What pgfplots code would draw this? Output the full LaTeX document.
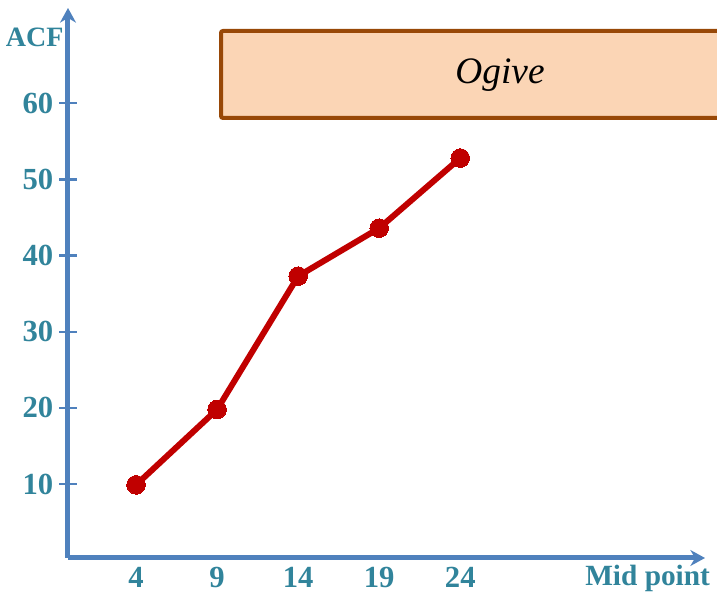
\documentclass[border=0pt]{standalone}
\usepackage{pgfplots}
\pgfplotsset{compat=1.18}
\usepackage{fontspec}
\setmainfont{Liberation Serif}
\usetikzlibrary{arrows.meta}
\definecolor{axisblue}{HTML}{4F81BD}
\definecolor{labelteal}{HTML}{31849B}
\definecolor{linered}{HTML}{C00000}
\definecolor{boxfill}{HTML}{FBD5B5}
\definecolor{boxdraw}{HTML}{984807}
\newcommand{\lblfont}{\bfseries\fontsize{23}{26}\selectfont}
\begin{document}
\begin{tikzpicture}
% page = 717x599 px at 0.75pt per px, origin at the axis corner
\useasboundingbox (-51pt,-30.75pt) rectangle (486.75pt,418.5pt);
\clip (-51pt,-30.75pt) rectangle (486.75pt,418.5pt);
\begin{axis}[
  scale only axis,
  width=477.75pt, height=412.5pt,
  xmin=-0.2, xmax=39.1,
  ymin=0.3, ymax=72.5,
  axis lines=left,
  axis line style={draw=axisblue, line width=3.75pt},
  x axis line style={-{Stealth[length=11pt,width=12pt]}},
  y axis line style={-{Stealth[length=11pt,width=12pt]}},
  xtick={4,9,14,19,24},
  ytick={10,20,...,60},
  xtick style={draw=none},
  ytick style={draw=axisblue, line width=1.8pt},
  tick align=center,
  major tick length=13pt,
  /pgf/number format/assume math mode=true,
  tick label style={font=\lblfont, text=labelteal},
  yticklabel style={xshift=-1pt},
  xticklabel style={yshift=1pt, inner sep=1pt},
  clip=false,
]
\addplot[color=linered, line width=4.5pt, mark=*, mark size=7pt,
  mark options={fill=linered, draw=linered, line width=0pt}]
  coordinates {(4,9.9) (9,19.8) (14,37.3) (19,43.6) (24,52.8)};
\end{axis}
\node[font=\bfseries\fontsize{21}{24}\selectfont, text=labelteal] at (-25pt,390.75pt) {ACF};
\node[font=\bfseries\fontsize{22}{25}\selectfont, text=labelteal, anchor=east] at (485pt,-15pt) {Mid point};
\draw[boxdraw, fill=boxfill, line width=3pt, rounded corners=1.5pt]
  (114.75pt,330pt) rectangle (520pt,395.25pt);
\node[font=\itshape\fontsize{28}{32}\selectfont] at (324pt,362.25pt) {Ogive};
\end{tikzpicture}
\end{document}
